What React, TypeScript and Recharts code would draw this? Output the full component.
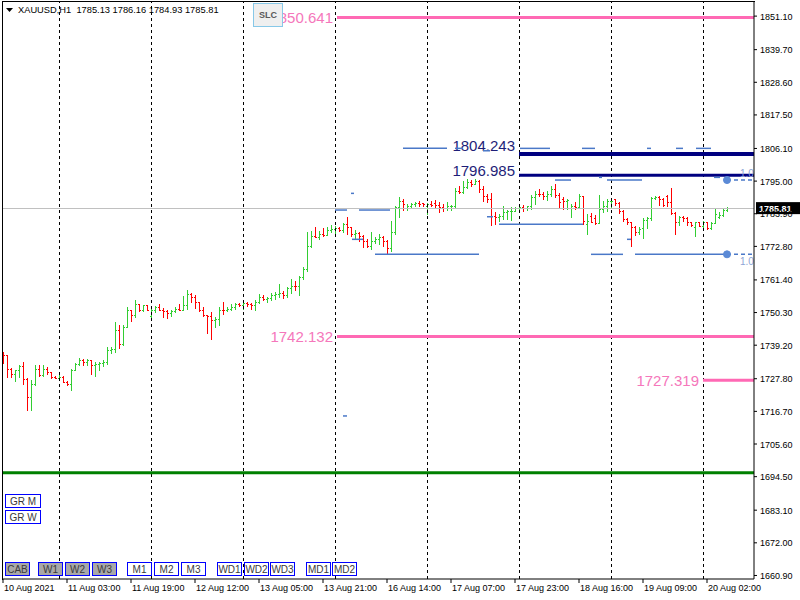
import React from 'react';
import { ComposedChart, Bar, XAxis, YAxis, ReferenceLine, ReferenceDot } from 'recharts';

// XAUUSD H1 bars, 10 Aug 10:00 .. 20 Aug 07:00 (bar index = position on the chart)
const opens = [
  1736.0, 1735.7, 1731.1, 1729.4, 1730.6, 1732.1, 1727.7, 1721.7, 1726.0, 1731.1,
  1729.1, 1731.1, 1730.0, 1728.5, 1728.2, 1728.3, 1726.8, 1726.0, 1730.8, 1732.8,
  1734.0, 1733.6, 1734.0, 1732.5, 1732.8, 1733.1, 1733.4, 1737.5, 1737.8, 1744.4,
  1739.6, 1745.5, 1751.2, 1749.5, 1753.2, 1751.0, 1752.7, 1749.0, 1751.0, 1752.1,
  1751.3, 1750.7, 1750.2, 1750.7, 1751.5, 1751.3, 1752.7, 1756.6, 1755.7, 1753.8,
  1751.0, 1749.3, 1749.0, 1747.6, 1748.1, 1751.3, 1751.0, 1751.5, 1752.1, 1753.2,
  1752.7, 1753.6, 1753.2, 1752.7, 1753.8, 1755.5, 1754.9, 1755.2, 1756.1, 1756.6,
  1757.0, 1756.1, 1758.6, 1759.5, 1759.3, 1762.5, 1765.1, 1773.1, 1776.5, 1776.1,
  1777.1, 1776.8, 1778.4, 1778.8, 1779.0, 1778.5, 1780.3, 1779.3, 1777.1, 1777.3,
  1776.5, 1774.6, 1773.1, 1774.8, 1775.4, 1775.9, 1774.8, 1772.3, 1777.6, 1786.1,
  1788.2, 1786.0, 1786.5, 1787.3, 1787.5, 1787.5, 1786.4, 1787.3, 1787.5, 1786.9,
  1786.1, 1785.8, 1786.5, 1786.7, 1791.8, 1791.2, 1792.9, 1794.6, 1794.1, 1795.2,
  1792.4, 1789.8, 1788.9, 1783.3, 1782.7, 1783.3, 1784.4, 1784.7, 1785.0, 1785.8,
  1786.1, 1785.9, 1786.5, 1789.5, 1790.7, 1790.5, 1789.9, 1790.7, 1792.4, 1790.3,
  1789.0, 1788.4, 1786.0, 1786.5, 1786.1, 1789.9, 1780.5, 1783.3, 1782.5, 1780.8,
  1785.6, 1786.7, 1788.1, 1788.9, 1787.6, 1785.0, 1782.2, 1781.0, 1779.5, 1777.8,
  1779.0, 1781.9, 1782.4, 1789.2, 1789.5, 1789.0, 1789.9, 1788.0, 1784.1, 1781.0,
  1782.7, 1782.4, 1781.0, 1779.5, 1781.0, 1779.9, 1781.0, 1779.0, 1780.8, 1782.9,
  1783.6, 1785.13,
];
const highs = [
  1737.0, 1735.8, 1731.5, 1730.8, 1732.3, 1733.6, 1727.9, 1727.2, 1732.6, 1732.3,
  1732.3, 1731.9, 1730.2, 1728.8, 1729.4, 1728.6, 1727.0, 1731.1, 1733.2, 1735.0,
  1734.5, 1734.5, 1734.3, 1733.4, 1733.6, 1734.3, 1738.5, 1738.5, 1747.2, 1746.2,
  1745.9, 1752.1, 1751.3, 1754.4, 1753.3, 1753.0, 1752.8, 1751.5, 1752.4, 1753.2,
  1751.8, 1751.0, 1751.2, 1752.3, 1753.2, 1755.8, 1758.1, 1756.9, 1756.4, 1753.9,
  1752.1, 1749.6, 1750.4, 1748.7, 1752.1, 1754.0, 1752.1, 1753.2, 1753.6, 1753.5,
  1754.0, 1754.0, 1753.6, 1754.4, 1756.6, 1756.1, 1755.5, 1757.0, 1757.4, 1760.0,
  1757.8, 1758.9, 1761.7, 1761.2, 1762.9, 1765.7, 1777.6, 1777.9, 1779.3, 1778.2,
  1779.1, 1779.3, 1780.1, 1779.9, 1779.3, 1780.7, 1782.7, 1779.5, 1778.4, 1777.6,
  1776.6, 1775.4, 1777.6, 1776.1, 1777.1, 1776.5, 1774.9, 1781.4, 1786.7, 1789.5,
  1789.0, 1787.3, 1787.6, 1787.8, 1788.2, 1787.6, 1787.6, 1788.2, 1788.5, 1788.0,
  1787.3, 1787.8, 1787.0, 1792.6, 1793.5, 1795.2, 1795.8, 1795.4, 1795.8, 1795.5,
  1793.5, 1790.7, 1790.9, 1784.4, 1783.9, 1786.5, 1785.3, 1786.1, 1786.1, 1786.9,
  1786.9, 1786.7, 1790.3, 1791.5, 1792.4, 1791.2, 1791.8, 1793.3, 1794.1, 1791.0,
  1789.5, 1789.0, 1787.3, 1787.8, 1790.7, 1790.0, 1783.9, 1784.2, 1783.5, 1790.3,
  1788.4, 1789.0, 1788.7, 1789.0, 1787.9, 1785.1, 1782.3, 1781.1, 1779.9, 1779.3,
  1782.4, 1782.7, 1789.5, 1789.9, 1789.9, 1789.1, 1790.3, 1792.6, 1784.4, 1783.3,
  1783.3, 1782.7, 1781.1, 1781.2, 1781.2, 1781.6, 1781.2, 1781.0, 1785.6, 1784.4,
  1785.8, 1786.16,
];
const lows = [
  1733.0, 1728.3, 1728.3, 1726.9, 1728.3, 1726.0, 1717.3, 1717.0, 1725.5, 1728.8,
  1728.8, 1729.4, 1728.0, 1727.9, 1727.7, 1726.6, 1725.5, 1723.8, 1730.6, 1732.3,
  1732.3, 1732.3, 1729.4, 1728.6, 1730.6, 1732.0, 1732.8, 1736.5, 1736.8, 1738.3,
  1739.4, 1745.3, 1747.3, 1748.7, 1750.7, 1750.8, 1751.0, 1748.7, 1750.4, 1751.0,
  1748.7, 1748.5, 1749.0, 1750.4, 1751.0, 1751.2, 1751.5, 1753.8, 1751.9, 1750.7,
  1749.0, 1743.4, 1741.3, 1745.3, 1745.9, 1749.8, 1750.8, 1751.0, 1751.5, 1752.5,
  1751.5, 1752.5, 1751.5, 1751.0, 1753.6, 1754.4, 1754.0, 1754.4, 1754.9, 1755.5,
  1755.2, 1755.5, 1757.0, 1758.1, 1756.3, 1761.7, 1764.6, 1772.7, 1775.9, 1775.4,
  1776.5, 1776.6, 1777.6, 1777.3, 1778.2, 1777.6, 1777.1, 1776.5, 1775.4, 1774.8,
  1772.7, 1772.5, 1771.9, 1773.9, 1773.7, 1773.1, 1770.5, 1771.4, 1777.1, 1782.7,
  1785.2, 1785.2, 1785.9, 1786.7, 1786.7, 1786.5, 1783.9, 1786.7, 1786.0, 1784.4,
  1784.7, 1785.3, 1785.3, 1785.8, 1791.0, 1791.1, 1792.6, 1793.3, 1794.0, 1791.2,
  1788.4, 1787.8, 1780.1, 1780.5, 1781.6, 1782.2, 1782.2, 1781.9, 1784.9, 1785.0,
  1785.0, 1785.2, 1785.6, 1787.3, 1790.1, 1789.0, 1788.7, 1790.1, 1789.5, 1786.1,
  1785.6, 1785.6, 1782.7, 1785.6, 1786.0, 1780.5, 1777.1, 1781.0, 1780.5, 1780.7,
  1784.4, 1785.0, 1786.1, 1786.9, 1784.1, 1781.6, 1780.5, 1773.1, 1776.7, 1777.1,
  1775.6, 1779.0, 1781.8, 1789.0, 1786.9, 1786.7, 1786.5, 1783.9, 1777.1, 1780.1,
  1781.6, 1780.1, 1779.7, 1776.3, 1779.7, 1779.3, 1778.8, 1778.8, 1780.6, 1782.4,
  1783.3, 1784.93,
];
const closes = [
  1735.7, 1731.1, 1729.4, 1730.6, 1732.1, 1727.7, 1721.7, 1726.0, 1731.1, 1729.1,
  1731.1, 1730.0, 1728.5, 1728.2, 1728.3, 1726.8, 1726.0, 1730.8, 1732.8, 1734.0,
  1733.6, 1734.0, 1732.5, 1732.8, 1733.1, 1733.4, 1737.5, 1737.8, 1744.4, 1739.6,
  1745.5, 1751.2, 1749.5, 1753.2, 1751.0, 1752.7, 1751.2, 1751.0, 1752.1, 1751.3,
  1750.7, 1750.2, 1750.7, 1751.5, 1751.3, 1752.7, 1756.6, 1755.7, 1753.8, 1751.0,
  1749.3, 1749.0, 1747.6, 1748.1, 1751.3, 1751.0, 1751.5, 1752.1, 1753.2, 1752.7,
  1753.6, 1753.2, 1752.7, 1753.8, 1755.5, 1754.9, 1755.2, 1756.1, 1756.6, 1757.0,
  1756.1, 1758.6, 1759.5, 1759.3, 1762.5, 1765.1, 1773.1, 1776.5, 1776.1, 1777.1,
  1776.8, 1778.4, 1778.8, 1779.0, 1778.5, 1780.3, 1779.3, 1777.1, 1777.3, 1776.5,
  1774.6, 1773.1, 1774.8, 1775.4, 1775.9, 1774.8, 1772.3, 1777.6, 1786.1, 1788.2,
  1787.3, 1786.5, 1787.3, 1787.5, 1787.3, 1787.2, 1787.3, 1787.0, 1786.9, 1786.1,
  1785.8, 1786.5, 1786.7, 1791.8, 1791.2, 1792.9, 1794.6, 1794.1, 1795.2, 1792.4,
  1789.8, 1788.9, 1783.3, 1782.7, 1783.3, 1784.4, 1784.7, 1785.0, 1785.8, 1786.1,
  1785.9, 1786.5, 1789.5, 1790.7, 1790.5, 1789.9, 1790.7, 1792.4, 1790.3, 1787.8,
  1788.4, 1788.7, 1786.5, 1786.1, 1789.9, 1781.6, 1781.6, 1781.2, 1780.8, 1785.6,
  1786.7, 1788.1, 1788.4, 1787.6, 1785.0, 1782.0, 1781.0, 1779.5, 1777.8, 1778.8,
  1781.9, 1782.4, 1789.2, 1789.5, 1789.0, 1786.9, 1788.0, 1784.1, 1781.0, 1782.7,
  1782.4, 1781.0, 1780.1, 1781.0, 1779.9, 1781.0, 1779.0, 1780.8, 1783.9, 1783.6,
  1785.3, 1785.81,
];

const timeTicks = [0, 16, 32, 48, 64, 80, 96, 112, 128, 144, 160, 176];
const timeLabels = [
  '10 Aug 2021', '11 Aug 03:00', '11 Aug 19:00', '12 Aug 12:00', '13 Aug 05:00', '13 Aug 21:00',
  '16 Aug 14:00', '17 Aug 07:00', '17 Aug 23:00', '18 Aug 16:00', '19 Aug 09:00', '20 Aug 02:00',
];
const priceTicks = [
  1851.1, 1839.7, 1828.6, 1817.5, 1806.1, 1795.0, 1783.9, 1772.8, 1761.4,
  1750.3, 1739.2, 1727.8, 1716.7, 1705.6, 1694.5, 1683.1, 1672.0, 1660.9,
];
const daySeparators = [14, 37, 60, 83, 106, 129, 152, 175];

const lastPrice = 1785.81;
const supportPrice = 1695.8;

// horizontal levels drawn from a start bar to the right edge
const levelPrices = [1850.641, 1804.243, 1796.985, 1742.132, 1727.319];
const levelStart = [83.5, 129, 129, 83.5, 175];
const levelKind = ['pink', 'navy', 'navy', 'pink', 'pink'];

// short blue segments (price, from bar, to bar)
const segPrice = [
  1806.13, 1806.13, 1805.31, 1806.13, 1806.13, 1806.13, 1806.13, 1806.13,
  1795.36, 1796.27, 1795.36, 1796.27, 1790.83, 1785.16, 1785.16, 1782.88,
  1780.3, 1775.2, 1775.2, 1770.1, 1770.1, 1770.1, 1715.14,
];
const segFrom = [
  100, 113, 120, 129.25, 144.75, 161, 168.25, 173.25,
  138, 149, 151, 177.75, 87, 83, 89, 121,
  124, 87.25, 156, 93, 147, 158, 85,
];
const segTo = [
  111, 115, 121.75, 136.75, 148, 162, 170, 177,
  142, 149.75, 159.75, 179.25, 87.75, 86, 96.75, 122.5,
  145, 90, 157, 119, 155, 181, 86,
];
const fiboPrices = [1795.36, 1770.1];
const fiboBar = 181;

const buttonsTop = ['CAB', 'W1', 'W2', 'W3', 'M1', 'M2', 'M3', 'WD1', 'WD2', 'WD3', 'MD1', 'MD2'];
const buttonsLeft = [5, 38, 65, 92, 127, 154, 181, 217, 244, 270, 306, 332];
const buttonsGrey = ['CAB', 'W1', 'W2', 'W3'];

const FONT = '"Liberation Sans", Arial, sans-serif';
const UP = '#32cd32';
const DOWN = '#ff0000';
const PINK = '#ff69b4';
const NAVY = '#000080';
const BLUE = '#4a78c8';

const rows = opens.map((o, i) => ({
  i,
  o,
  h: highs[i],
  l: lows[i],
  c: closes[i],
  range: [lows[i], highs[i]],
}));

const OhlcBar = (props: any) => {
  const { x, y, width, height, payload } = props;
  if (x == null || y == null) return null;
  const top = Math.min(y, y + height);
  const span = Math.abs(height);
  const k = span / (payload.h - payload.l);
  const cx = Math.round(x + width / 2);
  const py = (p: number) => Math.round(top + (payload.h - p) * k);
  const color = payload.c >= payload.o ? UP : DOWN;
  const yH = Math.round(top);
  const yL = Math.round(top + span);
  return (
    <g fill={color}>
      <rect x={cx} y={yH} width={1} height={Math.max(1, yL - yH + 1)} />
      <rect x={cx - 1} y={py(payload.o)} width={1} height={1} />
      <rect x={cx + 1} y={py(payload.c)} width={1} height={1} />
    </g>
  );
};

const PriceTick = (props: any) => {
  const { x, y, payload } = props;
  return (
    <text x={x + 3} y={y + 3.5} fontSize={9} fontFamily={FONT} fill="#000">
      {Number(payload.value).toFixed(2)}
    </text>
  );
};

const TimeTick = (props: any) => {
  const { x, y, payload } = props;
  const idx = timeTicks.indexOf(payload.value);
  return (
    <text x={x + 1} y={y + 8} fontSize={9} fontFamily={FONT} fill="#000">
      {timeLabels[idx]}
    </text>
  );
};

const LevelLabel = (props: any) => {
  const { viewBox, text, color, dy } = props;
  if (!viewBox) return null;
  return (
    <text x={viewBox.x - 4} y={viewBox.y + dy} textAnchor="end" fontSize={15} fontFamily={FONT} fill={color}>
      {text}
    </text>
  );
};

const FiboLabel = (props: any) => {
  const { viewBox, dy } = props;
  if (!viewBox) return null;
  return (
    <text x={viewBox.x + 13} y={viewBox.y + dy} fontSize={10} fontFamily={FONT} fill="#8ea4d6">
      1.0
    </text>
  );
};

const LastPriceLabel = (props: any) => {
  const { viewBox } = props;
  if (!viewBox) return null;
  const lx = viewBox.x + viewBox.width + 2;
  return (
    <g>
      <rect x={lx} y={viewBox.y - 6} width={44} height={12} fill="#000" />
      <text x={lx + 3} y={viewBox.y + 3.5} fontSize={9} fontWeight="bold" fontFamily={FONT} fill="#fff">
        {lastPrice.toFixed(2)}
      </text>
    </g>
  );
};

const btnStyle = (left: number, top: number, w: number, h: number, grey: boolean): React.CSSProperties => ({
  position: 'absolute',
  left,
  top,
  width: w,
  height: h,
  boxSizing: 'border-box',
  border: '1px solid #0000ff',
  background: grey ? '#a8a8a8' : '#ffffff',
  color: '#3a3a3a',
  fontSize: 10,
  fontFamily: FONT,
  display: 'flex',
  alignItems: 'center',
  justifyContent: 'center',
  overflow: 'hidden',
  whiteSpace: 'nowrap',
});

export default function App() {
  return (
    <div style={{ position: 'absolute', left: 0, top: 0, width: 800, height: 600, background: '#fff' }}>
      <ComposedChart
        width={800}
        height={600}
        data={rows}
        margin={{ top: 2, left: 2, right: 0, bottom: 0 }}
      >
        <XAxis
          dataKey="i"
          type="number"
          domain={[-0.25, 187.75]}
          ticks={timeTicks}
          interval={0}
          allowDataOverflow
          height={21}
          tickSize={4}
          tickMargin={0}
          stroke="#000"
          tick={<TimeTick />}
        />
        <YAxis
          orientation="right"
          type="number"
          domain={[1659.7, 1855.9]}
          ticks={priceTicks}
          interval={0}
          allowDataOverflow
          width={46}
          tickSize={3}
          tickMargin={0}
          stroke="#000"
          tick={<PriceTick />}
        />
        {daySeparators.map((d) => (
          <ReferenceLine key={`sep-${d}`} x={d} stroke="#000" strokeDasharray="3 3" shapeRendering="crispEdges" />
        ))}
        <ReferenceLine y={lastPrice} stroke="#c0c0c0" shapeRendering="crispEdges" label={<LastPriceLabel />} />
        <Bar dataKey="range" barSize={3} shape={<OhlcBar />} isAnimationActive={false} />
        <ReferenceLine y={supportPrice} stroke="#008000" strokeWidth={3} />
        {levelPrices.map((p, k) => (
          <ReferenceLine
            key={`lvl-${k}`}
            segment={[{ x: levelStart[k], y: p }, { x: 187.75, y: p }]}
            stroke={levelKind[k] === 'pink' ? PINK : NAVY}
            strokeWidth={levelKind[k] === 'pink' ? 3 : k === 1 ? 4 : 3}
            label={
              <LevelLabel
                text={p.toFixed(3)}
                color={levelKind[k] === 'pink' ? '#f577bb' : '#1e1e78'}
                dy={levelKind[k] === 'pink' ? 5.5 : k === 1 ? -3 : 1}
              />
            }
          />
        ))}
        {segPrice.map((p, k) => (
          <ReferenceLine
            key={`seg-${k}`}
            segment={[{ x: segFrom[k], y: p }, { x: segTo[k], y: p }]}
            stroke={BLUE}
            strokeWidth={1.5}
          />
        ))}
        {fiboPrices.map((p, k) => (
          <ReferenceLine
            key={`fib-${k}`}
            segment={[{ x: fiboBar, y: p }, { x: 187.5, y: p }]}
            stroke={BLUE}
            strokeWidth={1.5}
            strokeDasharray="4 3"
            label={<FiboLabel dy={k === 0 ? -3 : 11} />}
          />
        ))}
        {fiboPrices.map((p, k) => (
          <ReferenceDot key={`dot-${k}`} x={fiboBar} y={p} r={3.5} fill="#5b8ad6" stroke="#5b8ad6" />
        ))}
      </ComposedChart>

      <div style={{ position: 'absolute', left: 2, top: 1, width: 752, height: 578, borderLeft: '1px solid #000', borderTop: '1px solid #000', pointerEvents: 'none' }} />

      <svg style={{ position: 'absolute', left: 6, top: 8 }} width={8} height={6}>
        <polygon points="0,0 7,0 3.5,4" fill="#000" />
      </svg>
      <div style={{ position: 'absolute', left: 18, top: 6, fontSize: 9.3, lineHeight: 1, fontFamily: FONT, color: '#000', whiteSpace: 'pre' }}>
        {'XAUUSD,H1  1785.13 1786.16 1784.93 1785.81'}
      </div>

      <div style={{ ...btnStyle(253, 3, 30, 24, false), background: '#efefef', border: '1px solid #87c8e8', color: '#5a5a5a', fontSize: 9, fontWeight: 'bold' }}>
        SLC
      </div>

      <div style={btnStyle(5, 494, 36, 14, false)}>GR M</div>
      <div style={btnStyle(5, 510, 36, 14, false)}>GR W</div>
      {buttonsTop.map((b, k) => (
        <div key={b} style={btnStyle(buttonsLeft[k], 562, 25, 14, buttonsGrey.includes(b))}>
          {b}
        </div>
      ))}
    </div>
  );
}
